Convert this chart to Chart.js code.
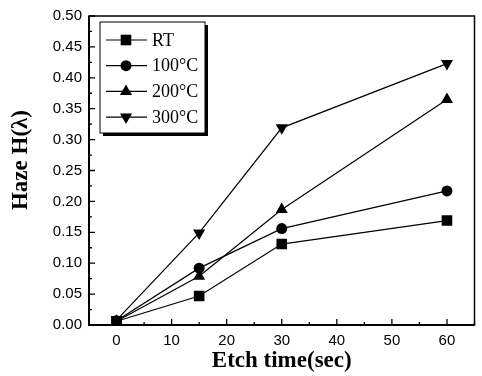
<!DOCTYPE html>
<html>
<head>
<meta charset="utf-8">
<script src="https://cdn.jsdelivr.net/npm/chart.js@4.4.0/dist/chart.umd.min.js"></script>
<style>
  html, body { margin: 0; padding: 0; background: #fff; }
  #wrap { width: 482px; height: 376px; }
</style>
</head>
<body>
<div id="wrap"><canvas id="hazeChart" width="482" height="376"></canvas></div>
<script>
// Etch time (sec) on the x axis
const etchTimes = [0, 15, 30, 60];

// Haze H(lambda)
const hazeRT   = [0.006, 0.047, 0.131, 0.169];
const haze100C = [0.007, 0.092, 0.156, 0.217];
const haze200C = [0.006, 0.079, 0.187, 0.365];
const haze300C = [0.008, 0.149, 0.319, 0.423];

const seriesLabels = ['RT', '100°C', '200°C', '300°C'];
const seriesStyles = ['rect', 'circle', 'triangle', 'triangle'];
const seriesRotation = [0, 0, 0, 180];
const seriesRadius = [7.5, 5.5, 7, 7];

const xTicks = [0, 10, 20, 30, 40, 50, 60];
const yTicks = [0, 0.05, 0.1, 0.15, 0.2, 0.25, 0.3, 0.35, 0.4, 0.45, 0.5];

const xTitle = 'Etch time(sec)';
const yTitle = 'Haze H(λ)';

const serif = '"Liberation Serif", "DejaVu Serif", serif';
const sans = '"Liberation Sans", Arial, sans-serif';

function makeDataset(i) {
    const values = [hazeRT, haze100C, haze200C, haze300C][i];
    return {
        label: seriesLabels[i],
        data: etchTimes.map((t, k) => ({ x: t, y: values[k] })),
        borderColor: '#000',
        backgroundColor: '#000',
        borderWidth: 1.2,
        pointStyle: seriesStyles[i],
        rotation: seriesRotation[i],
        pointRadius: seriesRadius[i],
        pointBorderWidth: 0,
        tension: 0
    };
}

const datasets = seriesLabels.map((_, i) => makeDataset(i));

// Frame, inward ticks, axis titles and the boxed legend
const framePlugin = {
    id: 'frame',
    afterDatasetsDraw(chart) {
        const ctx = chart.ctx;
        const a = chart.chartArea;
        const xs = chart.scales.x;
        const ys = chart.scales.y;
        ctx.save();
        ctx.strokeStyle = '#000';

        // box around the plot
        ctx.lineWidth = 1.5;
        ctx.strokeRect(a.left, a.top, a.right - a.left, a.bottom - a.top);
        ctx.lineWidth = 2;
        ctx.beginPath();
        ctx.moveTo(a.left, a.top); ctx.lineTo(a.left, a.bottom); ctx.lineTo(a.right, a.bottom);
        ctx.stroke();

        // inward ticks
        ctx.lineWidth = 1.3;
        ctx.beginPath();
        for (let v = -5; v <= 65; v += 5) {
            const px = xs.getPixelForValue(v);
            const len = v % 10 === 0 ? 6 : 3;
            ctx.moveTo(px, a.bottom); ctx.lineTo(px, a.bottom - len);
        }
        for (let k = 0; k <= 20; k++) {
            const py = ys.getPixelForValue(k * 0.025);
            const len = k % 2 === 0 ? 6 : 3;
            ctx.moveTo(a.left, py); ctx.lineTo(a.left + len, py);
        }
        ctx.stroke();

        // axis titles
        ctx.fillStyle = '#000';
        ctx.font = 'bold 23px ' + serif;
        ctx.textAlign = 'center';
        ctx.textBaseline = 'middle';
        ctx.fillText(xTitle, (a.left + a.right) / 2, 361);
        ctx.save();
        ctx.translate(21, 160);
        ctx.rotate(-Math.PI / 2);
        ctx.fillText(yTitle, 0, 0);
        ctx.restore();

        // legend box with shadow
        const lx = 100, ly = 22, lw = 105, lh = 111;
        ctx.fillStyle = '#000';
        ctx.fillRect(lx + 3, ly + 3, lw, lh);
        ctx.fillStyle = '#fff';
        ctx.fillRect(lx, ly, lw, lh);
        ctx.lineWidth = 1;
        ctx.strokeRect(lx, ly, lw, lh);

        ctx.font = '18px ' + serif;
        ctx.textAlign = 'left';
        ctx.textBaseline = 'middle';
        chart.data.datasets.forEach((ds, i) => {
            const cy = ly + 18 + i * 25.7;
            ctx.lineWidth = 1.2;
            ctx.beginPath();
            ctx.moveTo(106, cy); ctx.lineTo(147, cy);
            ctx.stroke();
            ctx.fillStyle = '#000';
            Chart.helpers.drawPoint(ctx, {
                pointStyle: ds.pointStyle,
                rotation: ds.rotation,
                radius: ds.pointRadius,
                borderWidth: 0
            }, 126, cy);
            ctx.fillText(ds.label, 152, cy + 1);
        });
        ctx.restore();
    }
};

new Chart(document.getElementById('hazeChart'), {
    type: 'line',
    data: { datasets: datasets },
    options: {
        responsive: false,
        animation: false,
        layout: { padding: { top: 13, right: 4, left: 0, bottom: 0 } },
        plugins: {
            legend: { display: false },
            tooltip: { enabled: false }
        },
        scales: {
            x: {
                type: 'linear',
                min: -5,
                max: 65,
                afterFit(scale) { scale.height = 51; },
                afterBuildTicks(scale) { scale.ticks = xTicks.map(v => ({ value: v })); },
                grid: { display: false, drawTicks: false },
                border: { display: false },
                ticks: {
                    color: '#000',
                    padding: 7,
                    maxRotation: 0,
                    font: { family: sans, size: 15 }
                },
                title: { display: false }
            },
            y: {
                type: 'linear',
                min: 0,
                max: 0.5,
                afterFit(scale) { scale.width = 89; },
                afterBuildTicks(scale) { scale.ticks = yTicks.map(v => ({ value: v })); },
                grid: { display: false, drawTicks: false },
                border: { display: false },
                ticks: {
                    color: '#000',
                    padding: 7,
                    font: { family: sans, size: 15 },
                    callback: v => v.toFixed(2)
                },
                title: { display: false }
            }
        }
    },
    plugins: [framePlugin]
});
</script>
</body>
</html>
